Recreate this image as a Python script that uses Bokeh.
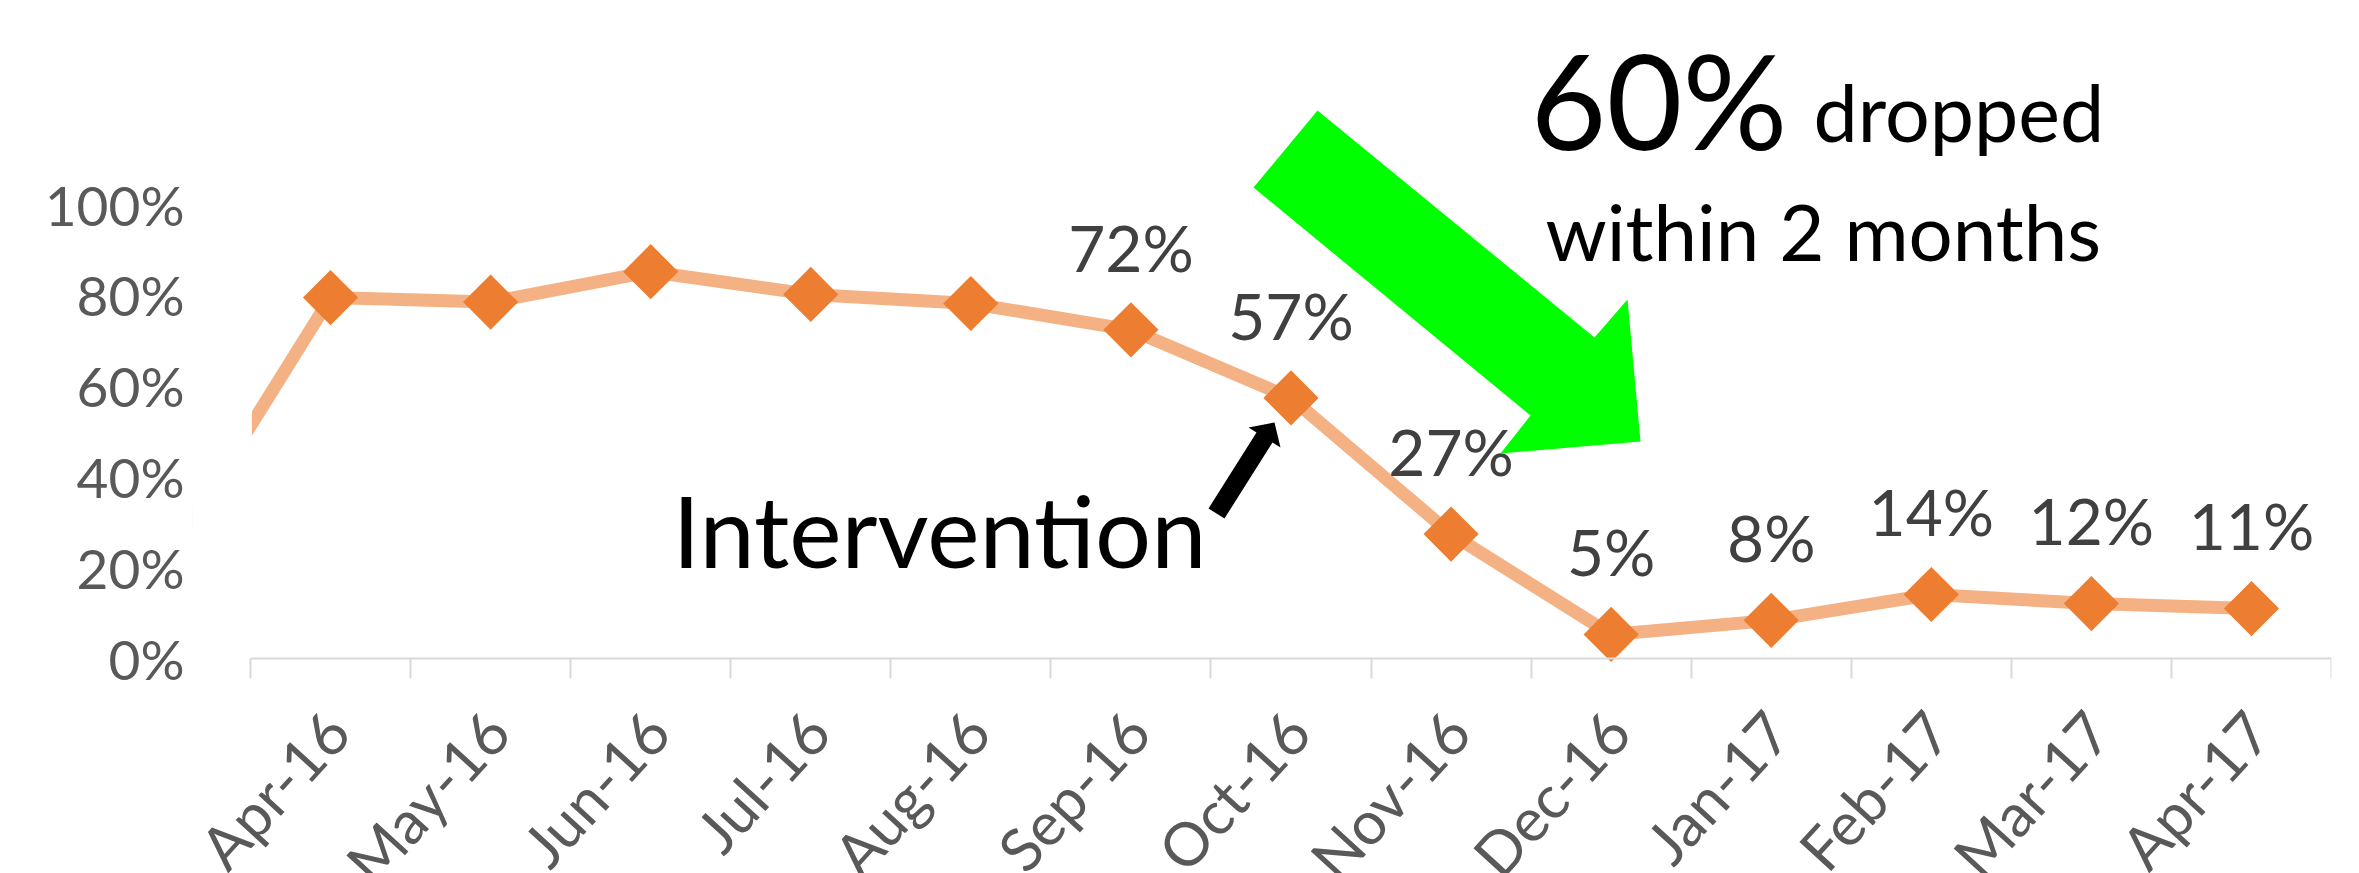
import math
from bokeh.plotting import figure
from bokeh.models import Range1d, FixedTicker, Label, ColumnDataSource
from bokeh.core.properties import value
from bokeh.embed import file_html
from bokeh.resources import INLINE

# ---------------- data ----------------
months = ["Apr-16", "May-16", "Jun-16", "Jul-16", "Aug-16", "Sep-16", "Oct-16",
          "Nov-16", "Dec-16", "Jan-17", "Feb-17", "Mar-17", "Apr-17"]
rates = [0.795, 0.785, 0.852, 0.802, 0.782, 0.724, 0.574, 0.274, 0.053, 0.084, 0.141, 0.121, 0.11]
prev_rate = 0.23          # Mar-16, drawn off the left edge of the plot
labelled_from = 5         # data labels shown from Sep-16 on
y_ticks = [0, 0.2, 0.4, 0.6, 0.8, 1.0]
y_tick_labels = ["0%", "20%", "40%", "60%", "80%", "100%"]

# ---------------- geometry (page pixels) ----------------
W, H = 2359, 873
AXIS_L, AXIS_R = 250, 2331             # px of the category axis ends
FRAME_L = 192                          # frame starts left of axis so rotated labels fit
FRAME_B = 658                          # px of 0%
PX_PER_UNIT = 454.0                    # px for 100%
n = len(months)
CAT_W = (AXIS_R - AXIS_L) / n
BASE_FIX = 0.37                        # baseline correction (fraction of font size)
LABEL_SHIFT = 0.04                     # month labels sit slightly right of centre


def dx(px):
    return (px - AXIS_L) / CAT_W


def dy(py):
    return (FRAME_B - py) / PX_PER_UNIT


p = figure(width=W, height=H, output_backend="svg", toolbar_location=None,
           x_range=Range1d(dx(FRAME_L), n),
           y_range=Range1d(-(H - FRAME_B) / PX_PER_UNIT, FRAME_B / PX_PER_UNIT),
           min_border_left=FRAME_L, min_border_right=W - AXIS_R,
           min_border_top=0, min_border_bottom=0)
p.outline_line_color = None
p.grid.visible = False
p.background_fill_color = "white"
p.border_fill_color = "white"

centers = [i + 0.5 for i in range(n)]
label_pos = [c + LABEL_SHIFT for c in centers]

# x axis at 0: labels at category centres, tick marks at category boundaries
xa = p.xaxis[0]
xa.fixed_location = 0
xa.bounds = (0, n)
xa.ticker = FixedTicker(ticks=label_pos, minor_ticks=list(range(n + 1)))
xa.major_label_overrides = {c: m for c, m in zip(label_pos, months)}
xa.major_label_orientation = 0.83
xa.major_label_standoff = 42
xa.major_label_text_font = "Lato"
xa.major_label_text_font_size = "60px"
xa.major_label_text_color = "#595959"
xa.axis_line_color = "#d9d9d9"
xa.axis_line_width = 2
xa.major_tick_line_color = None
xa.major_tick_out = 0
xa.major_tick_in = 0
xa.minor_tick_line_color = "#d9d9d9"
xa.minor_tick_line_width = 2
xa.minor_tick_out = 20
xa.minor_tick_in = 0

ya = p.yaxis[0]
ya.ticker = FixedTicker(ticks=y_ticks)
ya.major_label_overrides = {t: l for t, l in zip(y_ticks, y_tick_labels)}
ya.axis_line_color = None
ya.major_tick_line_color = None
ya.minor_tick_line_color = None
ya.major_label_standoff = 60 - (AXIS_L - FRAME_L)
ya.major_label_text_font = "Lato"
ya.major_label_text_font_size = "55px"
ya.major_label_text_color = "#595959"

# line (incl. previous month off the left edge)
p.line(x=[-0.5] + centers, y=[prev_rate] + rates, line_color="#F4B183", line_width=13)
# plot-area edge: hide what lies left of the category axis
for _ in range(3):
    p.quad(left=dx(FRAME_L) - 0.2, right=0, bottom=0.004, top=FRAME_B / PX_PER_UNIT + 0.1,
           fill_color="white", line_color="white", line_width=2)

src = ColumnDataSource(dict(x=centers, y=rates))
p.scatter(x="x", y="y", source=src, marker="square", angle=math.pi / 4, size=39,
          fill_color="#ED7D31", line_color=None)

lab_src = ColumnDataSource(dict(x=centers[labelled_from:], y=rates[labelled_from:],
                                t=[f"{round(v * 100)}%" for v in rates[labelled_from:]]))
p.text(x="x", y="y", text="t", source=lab_src, text_align="center", text_baseline="alphabetic",
       y_offset=-59 - BASE_FIX * 64, text_font=value("Lato"), text_font_size="64px",
       text_color="#404040")

# green block arrow
g_px = [(1317, 110), (1594, 337), (1627, 299), (1640, 441), (1500, 453), (1530, 415), (1253, 187)]
p.patch(x=[dx(a) for a, b in g_px], y=[dy(b) for a, b in g_px], fill_color="#00FF00", line_color=None)

# black arrow
b_px = [(1208, 508), (1256, 432), (1248, 427), (1274, 422), (1280, 447), (1272, 442), (1224, 518)]
p.patch(x=[dx(a) for a, b in b_px], y=[dy(b) for a, b in b_px], fill_color="black", line_color=None)


def note(px, py, text, size):
    p.add_layout(Label(x=dx(px), y=dy(py - BASE_FIX * size), text=text, text_font="Lato",
                       text_font_size=f"{size}px", text_color="black", text_align="left",
                       text_baseline="alphabetic"))


note(672, 566, "Intervention", 99)
note(1530, 147, "60%", 131)
note(1813, 140, "dropped", 79)
note(1545, 259, "within 2 months", 78)

open("out.html", "w").write(file_html(p, INLINE))
